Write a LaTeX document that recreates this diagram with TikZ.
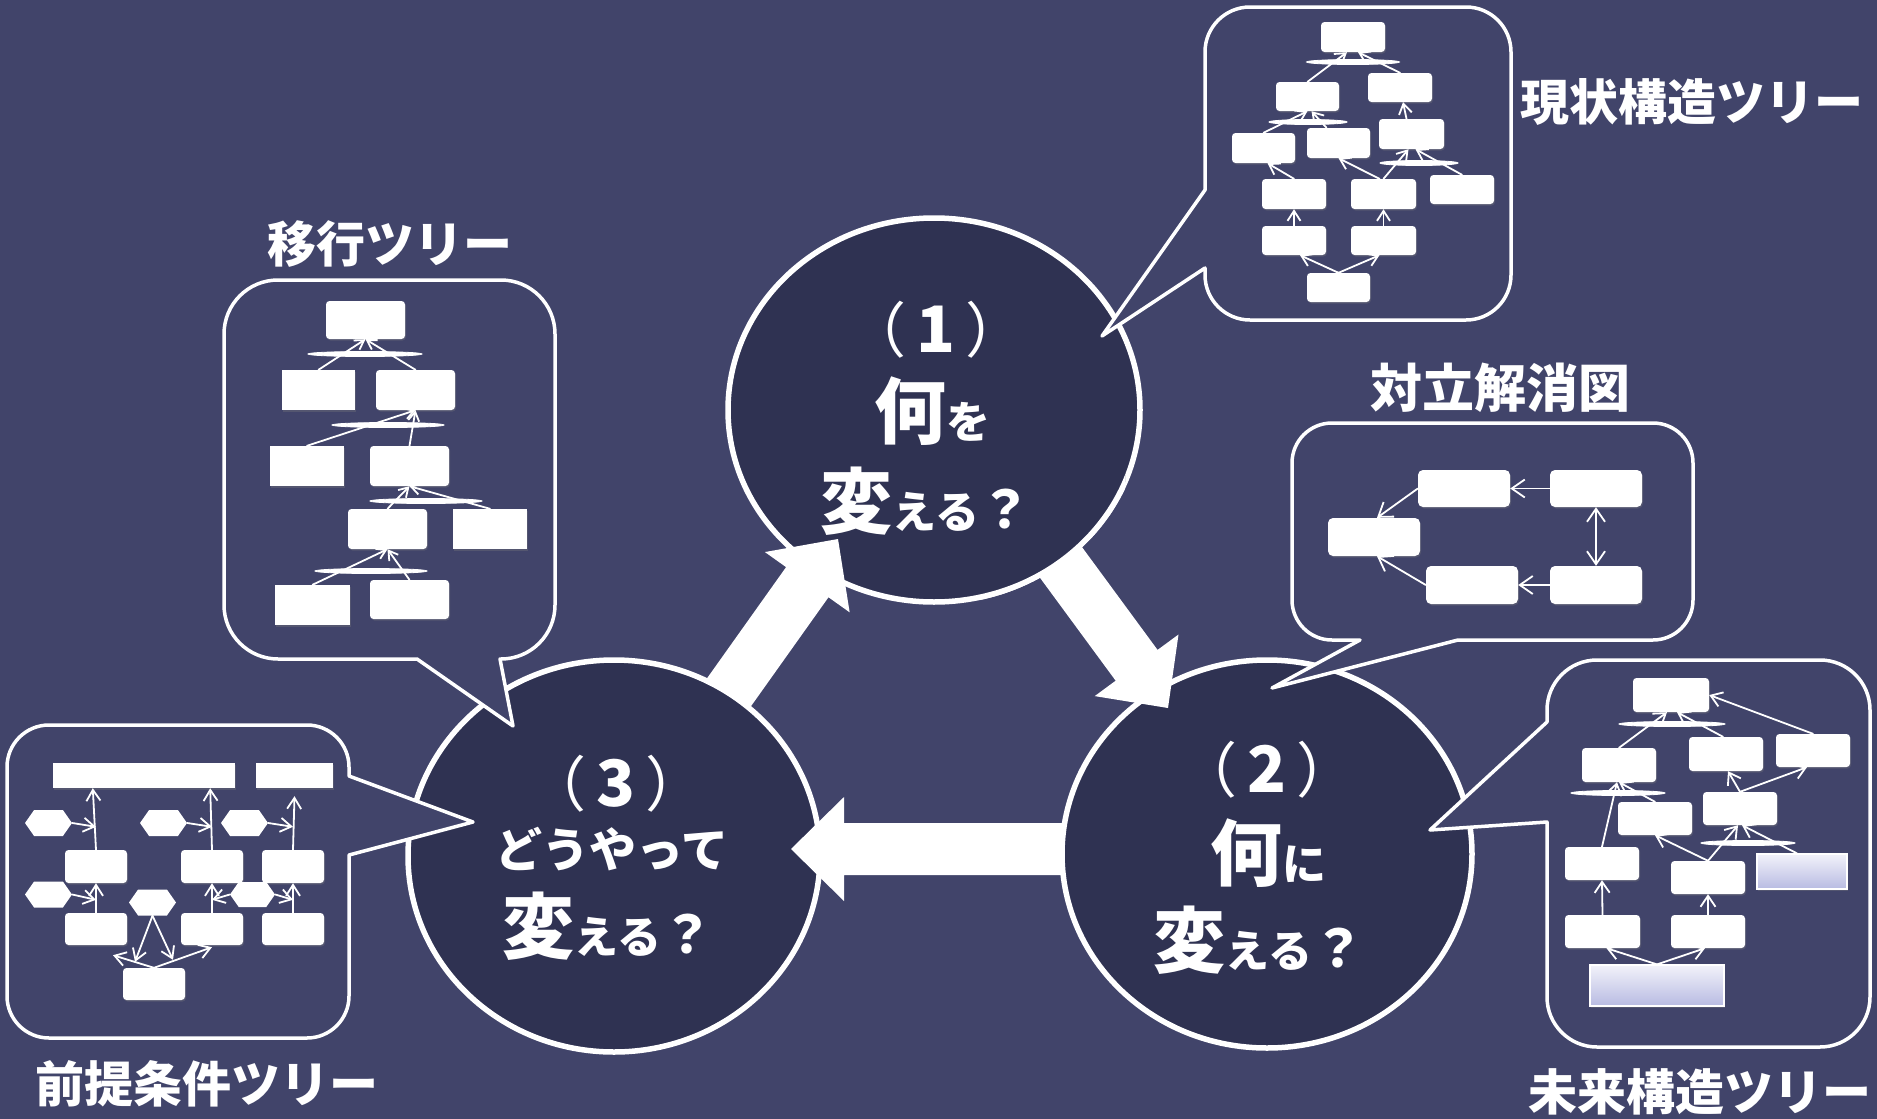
\documentclass[tikz,border=0pt]{standalone}
\usepackage{graphicx}
\usepackage{fontspec}
\newfontfamily\jp{Noto Sans CJK JP}
\usetikzlibrary{calc,fit,shapes.geometric,shapes.symbols,arrows.meta,shadows}
\definecolor{bgc}{RGB}{65,68,106}
\definecolor{cfill}{RGB}{47,50,82}
\definecolor{gradtop}{RGB}{242,242,250}
\definecolor{gradbot}{RGB}{184,187,226}
\tikzset{
  callout/.style={draw=white, line width=3.5pt, fill=bgc, line join=round},
  bigc/.style={draw=white, line width=5.5pt, fill=cfill},
  mini/.style={fill=white, inner sep=0pt, rounded corners=3.5pt,
    drop shadow={shadow xshift=1pt, shadow yshift=-1.5pt, opacity=0.3}},
  sq/.style={sharp corners},
  grad/.style={sharp corners, top color=gradtop, bottom color=gradbot, draw=white, line width=1.2pt},
  hexa/.style={signal, signal to=east and west, signal pointer angle=110, fill=white,
    inner sep=0pt, minimum width=47pt, minimum height=26pt},
  andn/.style={ellipse, fill=white, draw=white, line width=0.8pt, inner sep=0pt, minimum height=5pt},
  ma/.style={draw=white, line width=1.8pt, line cap=round},
  maA/.style={ma, -{Straight Barb[length=10pt,width=13pt]}},
  maB/.style={ma, -{Straight Barb[length=13pt,width=18pt]}},
  maBB/.style={ma, {Straight Barb[length=13pt,width=18pt]}-{Straight Barb[length=13pt,width=18pt]}},
  maC/.style={ma, -{Straight Barb[length=11pt,width=15pt]}},
  maD/.style={ma, -{Straight Barb[length=9pt,width=11pt]}},
  maE/.style={ma, -{Straight Barb[length=11pt,width=14pt]}},
  ctxt/.style={text=white, font=\jp\bfseries, inner sep=0pt, anchor=base},
  ttl/.style={text=white, font=\jp\bfseries\fontsize{49}{49}\selectfont, inner sep=0pt},
}
\newcommand\bx[6][]{\node[mini,#1,fit={(#3,#4) (#5,#6)}] (#2) {};}
\newcommand\bigArrow[2]{%
  \path ($(#2)!53pt!(#1)$) coordinate (hb);
  \fill[white] ($(#1)!26pt!90:(#2)$) -- ($(hb)!26pt!90:(#2)$) -- ($(hb)!52pt!90:(#2)$)
    -- (#2) -- ($(hb)!52pt!-90:(#2)$) -- ($(hb)!26pt!-90:(#2)$) -- ($(#1)!26pt!-90:(#2)$) -- cycle;
}
\newcommand\numline[1]{{\fontsize{60}{60}\selectfont\mdseries （}\hspace{10pt}{\fontsize{64}{64}\selectfont #1}\hspace{10pt}{\fontsize{60}{60}\selectfont\mdseries ）}}
\newcommand\kaeru{{\fontsize{72}{72}\selectfont 変}{\fontsize{44}{44}\selectfont える}{\fontsize{52}{52}\selectfont ？}}
\begin{document}
\begin{tikzpicture}[x=1pt,y=-1pt]
\useasboundingbox (0,0) rectangle (1877,1119);
\fill[bgc] (0,0) rectangle (1877,1119);

% centres of the three circles and arrow ends
\coordinate (C1) at (934,410);
\coordinate (C2) at (1267,854);
\coordinate (C3) at (614,856);
\coordinate (t31) at (705,726); \coordinate (h31) at (838,539);
\coordinate (t12) at (1032,523); \coordinate (h12) at (1168,708);
\coordinate (t23) at (1100,849); \coordinate (h23) at (791,849);

\path[bigc] (C1) ellipse [x radius=206pt, y radius=192pt];
\bigArrow{t31}{h31}
\path[bigc] (C3) ellipse [x radius=206pt, y radius=196pt];
\bigArrow{t23}{h23}
\path[bigc] (C2) ellipse [x radius=205pt, y radius=194pt];
\bigArrow{t12}{h12}
\begin{scope}
  \clip (980,470) rectangle (1125,622);
  \path[bigc] (C1) ellipse [x radius=206pt, y radius=192pt];
\end{scope}

% ---------- callouts ----------
\draw[callout] (1205,190) [rounded corners=45pt] -- (1205,7) -- (1511,7) -- (1511,320) -- (1205,320) [sharp corners] -- (1205,268) -- (1102,336) -- cycle;
\draw[callout] (1458,640) [rounded corners=40pt] -- (1693,640) -- (1693,423) -- (1292,423) -- (1292,640) [sharp corners] -- (1360,640) -- (1272,688) -- cycle;
\draw[callout] (1547,822) [rounded corners=50pt] -- (1547,1047) -- (1870,1047) -- (1870,660) -- (1547,660) [sharp corners] -- (1547,722) -- (1430,830) -- cycle;
\draw[callout] (500,659) [rounded corners=54pt] -- (555,659) -- (555,280) -- (224,280) -- (224,659) [sharp corners] -- (417,659) -- (513,726) -- cycle;
\draw[callout] (349,855) [rounded corners=42pt] -- (349,1038) -- (7,1038) -- (7,725) -- (349,725) [sharp corners] -- (349,776) -- (473,822) -- cycle;

% ---------- A: current reality tree ----------
\bx{a1}{1321}{22}{1385}{52}
\bx{a2}{1276}{82}{1339}{111}
\bx{a3}{1368}{73}{1432}{102}
\bx{a4}{1232}{133}{1295}{163}
\bx{a5}{1307}{128}{1370}{158}
\bx{a6}{1379}{119}{1444}{149}
\bx{a7}{1262}{179}{1326}{209}
\bx{a8}{1351}{179}{1416}{209}
\bx{a9}{1430}{175}{1494}{204}
\bx{a10}{1262}{226}{1326}{255}
\bx{a11}{1351}{226}{1416}{255}
\bx{a12}{1307}{273}{1370}{302}
\draw[maA] (a2.north) -- ([xshift=-6pt]a1.south);
\draw[maA] (a3.north) -- ([xshift=5pt]a1.south);
\draw[maA] ([xshift=-5pt]a6.north) -- ([xshift=3pt]a3.south);
\draw[maA] (a4.north) -- (a2.south);
\draw[maA] ([xshift=-12pt]a5.north) -- ([xshift=4pt]a2.south);
\draw[maA] (a7.north) -- ([xshift=4pt]a4.south);
\draw[maA] ([xshift=-4pt]a8.north) -- (a5.south);
\draw[maA] (a8.north) -- ([xshift=-3pt]a6.south);
\draw[maA] (a9.north) -- ([xshift=4pt]a6.south);
\draw[maA] (a10.north) -- (a7.south);
\draw[maA] (a11.north) -- (a8.south);
\draw[maA] (a12.north) -- ([xshift=6pt]a10.south);
\draw[maA] (a12.north) -- ([xshift=-4pt]a11.south);
\node[andn, minimum width=93pt] (ea1) at (1353,62) {};
\node[andn, minimum width=78pt] (ea2) at (1308,122) {};
\node[andn, minimum width=78pt] (ea3) at (1419,163) {};
\node[ttl] (tA) at (1692,102) {現状構造ツリー};

% ---------- B: evaporating cloud ----------
\bx[rounded corners=5pt]{b1}{1418}{470}{1510}{507}
\bx[rounded corners=5pt]{b2}{1550}{470}{1642}{507}
\bx[rounded corners=5pt]{b3}{1328}{518}{1420}{556}
\bx[rounded corners=5pt]{b4}{1426}{566}{1518}{604}
\bx[rounded corners=5pt]{b5}{1550}{566}{1642}{604}
\draw[maB] (b2.west) -- (b1.east);
\draw[maB] (b5.west) -- (b4.east);
\draw[maBB] (b2.south) -- (b5.north);
\draw[maB] (b1.west) -- ([xshift=3pt]b3.north);
\draw[maB] (b4.west) -- ([xshift=3pt]b3.south);
\node[ttl, font=\jp\bfseries\fontsize{52}{52}\selectfont] (tB) at (1500,388) {対立解消図};

% ---------- C: future reality tree ----------
\bx{c1}{1633}{678}{1709}{712}
\bx{c2}{1582}{748}{1656}{782}
\bx{c3}{1689}{737}{1763}{771}
\bx{c4}{1776}{734}{1850}{767}
\bx{c5}{1618}{802}{1692}{835}
\bx{c6}{1703}{792}{1777}{825}
\bx{c7}{1565}{847}{1639}{880}
\bx{c8}{1671}{861}{1745}{894}
\bx[grad]{c9}{1757}{854}{1847}{889}
\bx{c10}{1565}{915}{1640}{948}
\bx{c11}{1671}{915}{1745}{948}
\bx[grad]{c12}{1590}{965}{1724}{1006}
\draw[maC] (c2.north) -- ([xshift=-4pt]c1.south);
\draw[maC] ([xshift=-3pt]c3.north) -- ([xshift=6pt]c1.south);
\draw[maC] (c4.north) -- (c1.east);
\draw[maC] (c5.north) -- (c2.south);
\draw[maC] (c7.north) -- ([xshift=-2pt]c2.south);
\draw[maC] (c6.north) -- ([xshift=2pt]c3.south);
\draw[maC] (c6.north) -- ([xshift=-6pt]c4.south);
\draw[maC] (c8.north) -- (c5.south);
\draw[maC] (c8.north) -- ([xshift=-2pt]c6.south);
\draw[maC] ([xshift=-5pt]c9.north) -- ([xshift=2pt]c6.south);
\draw[maC] (c10.north) -- (c7.south);
\draw[maC] (c11.north) -- (c8.south);
\draw[maC] (c12.north) -- ([xshift=4pt]c10.south);
\draw[maC] (c12.north) -- ([xshift=-3pt]c11.south);
\node[andn, minimum width=106pt] (ec1) at (1672,724) {};
\node[andn, minimum width=94pt] (ec2) at (1618,793) {};
\node[andn, minimum width=94pt] (ec3) at (1748,843) {};
\node[ttl] (tC) at (1700,1092) {未来構造ツリー};

% ---------- D: transition tree ----------
\bx{d1}{326}{301}{405}{339}
\bx[sq]{d2}{282}{370}{355}{410}
\bx{d3}{376}{370}{455}{410}
\bx[sq]{d4}{270}{446}{344}{486}
\bx{d5}{370}{446}{449}{486}
\bx{d6}{348}{509}{427}{549}
\bx[sq]{d7}{453}{509}{527}{549}
\bx[sq]{d8}{275}{585}{350}{625}
\bx{d9}{370}{580}{449}{619}
\draw[maD] (d2.north) -- (d1.south);
\draw[maD] (d3.north) -- (d1.south);
\draw[maD] (d4.north) -- (d3.south);
\draw[maD] (d5.north) -- (d3.south);
\draw[maD] (d6.north) -- (d5.south);
\draw[maD] (d7.north) -- (d5.south);
\draw[maD] (d8.north) -- (d6.south);
\draw[maD] (d9.north) -- (d6.south);
\node[andn, minimum width=114pt] (ed1) at (365,354) {};
\node[andn, minimum width=112pt] (ed2) at (388,425) {};
\node[andn, minimum width=112pt] (ed3) at (426,501) {};
\node[andn, minimum width=112pt] (ed4) at (371,571) {};
\node[ttl] (tD) at (390,244) {移行ツリー};

% ---------- E: prerequisite tree ----------
\bx[sq]{bar1}{53}{763}{235}{788}
\bx[sq]{bar2}{256}{763}{333}{788}
\bx{k1}{65}{850}{127}{883}
\bx{k2}{181}{850}{243}{883}
\bx{k3}{262}{850}{324}{883}
\bx{k4}{65}{913}{127}{945}
\bx{k5}{181}{913}{243}{945}
\bx{k6}{262}{913}{324}{945}
\bx{k7}{123}{968}{185}{1000}
\node[hexa] (h1) at (48.5,823) {};
\node[hexa] (h2) at (163.5,823) {};
\node[hexa] (h3) at (244.5,823) {};
\node[hexa] (h4) at (48.5,894.5) {};
\node[hexa] (h5) at (152.5,902.5) {};
\node[hexa, minimum width=45pt, minimum height=25pt] (h6) at (252.5,894.5) {};
\draw[maE] (k1.north) -- ([xshift=40pt]bar1.south west);
\draw[maE] (k2.north) -- ([xshift=-25pt]bar1.south east);
\draw[maE] (k3.north) -- ([yshift=-8pt]bar2.south);
\draw[maE] (h1.east) -- ([yshift=23pt]k1.north);
\draw[maE] (h2.east) -- ([yshift=23pt]k2.north);
\draw[maE] (h3.east) -- ([yshift=23pt]k3.north);
\draw[maE] (k4.north) -- (k1.south);
\draw[maE] (k5.north) -- (k2.south);
\draw[maE] (k6.north) -- (k3.south);
\draw[maE] (h4.east) -- ([yshift=13pt]k4.north);
\draw[maE] (h6.west) -- ([yshift=13pt]k5.north);
\draw[maE] (h6.east) -- ([yshift=13pt]k6.north);
\draw[maE] (h5.south) -- ([xshift=-19pt,yshift=6pt]k7.north);
\draw[maE] (h5.south) -- ([xshift=19pt,yshift=8pt]k7.north);
\draw[maE] (k7.north) -- ([xshift=17pt,yshift=-10pt]k4.south);
\draw[maE] (k7.north) -- ([yshift=-2pt]k5.south);
\node[ttl] (tE) at (207,1084) {前提条件ツリー};

% ---------- circle texts ----------
\node[ctxt] (p1) at (936,352) {\numline{1}};
\node[ctxt] (q1) at (932,438) {\fontsize{72}{72}\selectfont 何\fontsize{44}{44}\selectfont を};
\node[ctxt] (r1) at (926,528) {\kaeru};
\node[ctxt] (p2) at (1267,792) {\numline{2}};
\node[ctxt] (q2) at (1268,880) {\fontsize{72}{72}\selectfont 何\fontsize{44}{44}\selectfont に};
\node[ctxt] (r2) at (1259,967) {\kaeru};
\node[ctxt] (p3) at (616,806) {\numline{3}};
\node[ctxt] (q3) at (612,867) {\fontsize{47}{47}\selectfont どうやって};
\node[ctxt] (r3) at (608,953) {\kaeru};
\end{tikzpicture}
\end{document}
